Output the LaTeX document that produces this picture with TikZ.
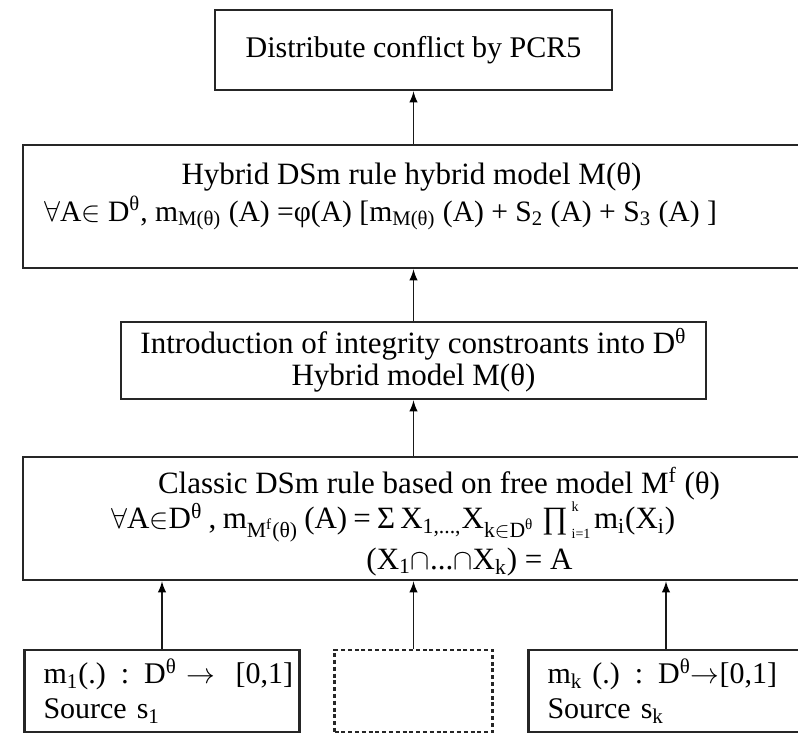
\documentclass[tikz,border=0pt]{standalone}
\usepackage{fontspec}
\setmainfont{Liberation Serif}
\usetikzlibrary{positioning, arrows, calc}

\tikzset{
    box/.style={draw=black!85, line width=1.3pt, fill=white, inner sep=0pt,
        font=\fontsize{15.5}{16}\selectfont, align=center},
    src/.style={box, minimum width=137.5pt, minimum height=41pt,
        text width=118.5pt, align=left, font=\fontsize{15}{17.5}\selectfont},
    txt/.style={inner sep=0pt, font=\fontsize{15.5}{16}\selectfont},
}
\newcommand{\Dth}{D\textsuperscript{θ}}
\newcommand{\Mth}{M(θ)}

\begin{document}
\begin{tikzpicture}[x=0.5pt, y=-0.5pt, >=latex]
    \useasboundingbox (0,0) rectangle (798,733);
    \clip (0,0) rectangle (798,733);

    \node[box, font=\fontsize{15}{16}\selectfont, minimum width=198.5pt, minimum height=40pt] (pcr) at (413.5,50) {Distribute conflict by PCR5};
    \node[box, minimum width=390.5pt, minimum height=61.5pt, below=26.2pt of pcr] (hyb) {};
    \node[box, minimum width=292.5pt, minimum height=38.5pt, below=25.7pt of hyb] (intro) {Introduction of integrity constroants into \Dth\\Hybrid model \Mth};
    \node[box, minimum width=390.5pt, minimum height=61.5pt, below=27.7pt of intro] (free) {};
    \node[box, line width=1.2pt, dash pattern=on 2pt off 1.4pt, minimum width=79pt, minimum height=41pt, below=33.7pt of free] (sj) {};
    \node[src, left=16.25pt of sj] (s1) {\mbox{m\textsubscript{1}(.) : \Dth\ $\rightarrow$\ \ [0,1]}\\Source s\textsubscript{1}};
    \node[src, right=16.75pt of sj] (sk) {\mbox{m\textsubscript{k} (.) : \Dth$\rightarrow$[0,1]}\\Source s\textsubscript{k}};

    \node[txt] (hybA) at ([xshift=-1pt, yshift=-16.5pt]hyb.north) {Hybrid DSm rule hybrid model \Mth};
    \node[txt, font=\fontsize{14.8}{16}\selectfont, anchor=west] (hybB) at ([xshift=11pt, yshift=-3.3pt]hyb.west) {$\forall$A$\in$ \Dth, m\textsubscript{\Mth} (A) =φ(A) [m\textsubscript{\Mth} (A) + S\textsubscript{2} (A) + S\textsubscript{3} (A) ]};

    \node[txt] (freeA) at ([xshift=12.75pt, yshift=-14pt]free.north) {Classic DSm rule based on free model M\textsuperscript{f} (θ)};
    \node[txt, anchor=west] (freeB) at ([xshift=44.5pt, yshift=-1.75pt]free.west) {\makebox[133pt][s]{$\forall$A$\in$\Dth\ , m\textsubscript{M\textsuperscript{f}(θ)} (A) =\ }\makebox[82.5pt][l]{Σ\,X\textsubscript{1,...,}X\textsubscript{k$\in$\Dth}}\makebox[26pt][l]{∏\kern2pt\raisebox{-5pt}{\shortstack[l]{\scriptsize k\\[6pt]\scriptsize i=1}}}m\textsubscript{i}(X\textsubscript{i})};
    \node[txt] (freeC) at ([xshift=28pt, yshift=-21.75pt]free.center) {(X\textsubscript{1}$\cap$...$\cap$X\textsubscript{k}) = A};

    \draw[->, line width=0.9pt, draw=black!90]
        (hyb) edge (pcr)
        (intro) edge (hyb)
        (free) edge (intro)
        (s1) edge (s1 |- free.south)
        (sj) edge (sj |- free.south)
        (sk) edge (sk |- free.south)
        ;
\end{tikzpicture}
\end{document}
